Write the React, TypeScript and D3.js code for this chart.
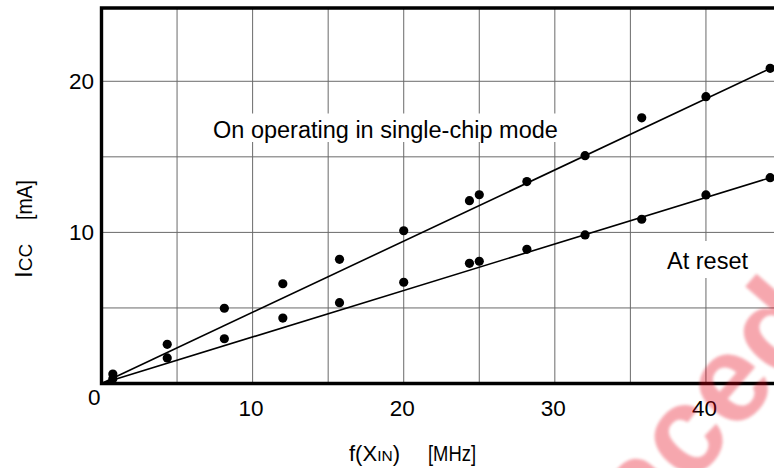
import React from 'react';
import * as d3 from 'd3';

// Supply current vs. oscillation frequency (measured points)
const freqMHz = [0.75, 4.35, 8.13, 12.0, 15.75, 20.0, 24.35, 25.0, 28.15, 32.0, 35.75, 40.0, 44.25];
const iccSingleChip = [0.63, 2.59, 4.98, 6.6, 8.22, 10.11, 12.1, 12.49, 13.36, 15.08, 17.58, 18.98, 20.86];
const iccAtReset = [0.32, 1.69, 2.96, 4.33, 5.35, 6.7, 7.95, 8.09, 8.88, 9.83, 10.87, 12.48, 13.62];

// Straight trend lines through the measurements
const fitSingleChip: [number, number][] = [[0, 0], [45, 21.2]];
const fitAtReset: [number, number][] = [[0, 0], [45, 13.85]];

const xTickValues = [10, 20, 30, 40];
const yTickValues = [10, 20];
const xGridValues = [5, 10, 15, 20, 25, 30, 35, 40];
const yGridValues = [5, 10, 15, 20];

const W = 774;
const H = 468;
const X_MAX = 45;
const Y_MAX = 24.85;
const FONT = "'Liberation Sans', Arial, Helvetica, sans-serif";

const x = d3.scaleLinear().domain([0, X_MAX]).range([101.5, 781.5]);
const y = d3.scaleLinear().domain([0, Y_MAX]).range([383.5, 8]);
const line = d3.line<[number, number]>().x((d) => x(d[0])).y((d) => y(d[1]));

export default function App() {
  const frame = `M${x(X_MAX)},${y(Y_MAX)}H${x(0)}V${y(0)}H${x(X_MAX)}V${y(Y_MAX)}`;
  return (
    <svg
      width={W}
      height={H}
      viewBox={`0 0 ${W} ${H}`}
      style={{ position: 'absolute', left: 0, top: 0, background: '#fff' }}
      fontFamily={FONT}
    >
      <defs>
        <filter id="soft" x="-10%" y="-10%" width="120%" height="120%">
          <feGaussianBlur stdDeviation="1.8" />
        </filter>
      </defs>
      <rect width={W} height={H} fill="#fff" />

      {/* grid */}
      <g stroke="#6a6a6a" strokeWidth={1}>
        {xGridValues.map((v) => (
          <line key={`gx${v}`} x1={x(v)} x2={x(v)} y1={y(0)} y2={y(Y_MAX)} />
        ))}
        {yGridValues.map((v) => (
          <line key={`gy${v}`} x1={x(0)} x2={x(X_MAX)} y1={y(v)} y2={y(v)} />
        ))}
      </g>

      {/* annotation backgrounds */}
      <rect x={209} y={113.5} width={358} height={28.5} fill="#fff" />
      <rect x={662} y={241} width={92} height={37} fill="#fff" />
      <text x={213} y={137.5} fontSize={23.5} fill="#000">On operating in single-chip mode</text>
      <text x={667} y={269} fontSize={23.5} fill="#000">At reset</text>

      {/* trend lines */}
      <path d={line(fitSingleChip) || ''} fill="none" stroke="#000" strokeWidth={1.6} />
      <path d={line(fitAtReset) || ''} fill="none" stroke="#000" strokeWidth={1.6} />

      {/* measured points */}
      <g fill="#000">
        {freqMHz.map((f, i) => (
          <circle key={`s${i}`} cx={x(f)} cy={y(iccSingleChip[i])} r={4.6} />
        ))}
        {freqMHz.map((f, i) => (
          <circle key={`r${i}`} cx={x(f)} cy={y(iccAtReset[i])} r={4.6} />
        ))}
      </g>

      {/* frame */}
      <path d={frame} fill="none" stroke="#000" strokeWidth={3.4} />

      {/* tick labels */}
      <g fontSize={22.5} fill="#000">
        <text x={x(0) - 1} y={405} textAnchor="end">0</text>
        {xTickValues.map((v) => (
          <text key={`xt${v}`} x={x(v) - 1.5} y={415.5} textAnchor="middle">{v}</text>
        ))}
        {yTickValues.map((v) => (
          <text key={`yt${v}`} x={94} y={y(v) + 7.5} textAnchor="end">{v}</text>
        ))}
      </g>

      {/* axis titles */}
      <text x={349} y={461} fontSize={22} fill="#000">
        f(X<tspan fontSize={15.5}>IN</tspan>)
      </text>
      <text x={428} y={461} fontSize={22} fill="#000" textLength={48} lengthAdjust="spacingAndGlyphs">[MHz]</text>
      <g transform="translate(32,278) rotate(-90)" fill="#000">
        <text x={0} y={0} fontSize={24}>
          I<tspan fontSize={19}>CC</tspan>
        </text>
        <text x={58} y={0} fontSize={22} textLength={40} lengthAdjust="spacingAndGlyphs">[mA]</text>
      </g>

      {/* stamp */}
      <g filter="url(#soft)" opacity={0.34}>
        <text
          transform="translate(830,326) rotate(-49)"
          textAnchor="end"
          fontSize={124}
          fontWeight="bold"
          fill="#e60012"
        >
          Replaced
        </text>
      </g>
    </svg>
  );
}
